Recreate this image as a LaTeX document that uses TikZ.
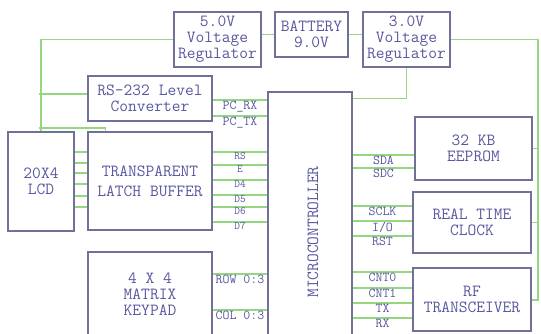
\documentclass[tikz,border=0pt]{standalone}
\usepackage{fontspec}
\usetikzlibrary{calc}
\definecolor{boxline}{RGB}{112,112,152}
\definecolor{wiregreen}{RGB}{150,214,128}
\definecolor{textblue}{RGB}{88,88,160}
\tikzset{
  % Functional block of the board
  block/.style={
    rectangle, draw=boxline, line width=1.2pt, fill=white, text=textblue,
    font=\ttfamily\fontsize{17}{16}\selectfont, align=center, inner sep=1pt
  },
  wire/.style={draw=wiregreen, line width=1.1pt},
  pinlabel/.style={font=\ttfamily\fontsize{13.5}{13}\selectfont, text=textblue, inner sep=0.5pt},
  latchpin/.style={font=\ttfamily\fontsize{11}{11}\selectfont, text=textblue, inner sep=0.5pt}
}
\begin{document}
\begin{tikzpicture}[x=1pt, y=-1pt]
  \useasboundingbox (0,0) rectangle (541,334);

  % Top row: power supply
  \node[block, minimum width=87pt, minimum height=55pt] (reg5) at (217.5,39.5) {5.0V\\Voltage\\Regulator};
  \node[block, minimum width=73pt, minimum height=45pt] (batt) at (311.5,34.5) {BATTERY\\9.0V};
  \node[block, minimum width=87pt, minimum height=55pt] (reg3) at (406.5,39.5) {3.0V\\Voltage\\Regulator};

  % Left column: serial, display, input
  \node[block, minimum width=124pt, minimum height=45pt] (rs232) at (150,98.5) {RS-232 Level\\Converter};
  \node[block, minimum width=66pt, minimum height=99pt] (lcd) at (41,181.5) {20X4\\LCD};
  \node[block, minimum width=124pt, minimum height=98pt] (latch) at (150,181) {TRANSPARENT\\[4pt]LATCH BUFFER};
  \node[block, minimum width=124pt, minimum height=84pt] (keypad) at (150,294) {4 X 4\\MATRIX\\KEYPAD};

  % Centre: microcontroller
  \node[block, minimum width=84pt, minimum height=248pt] (mcu) at (310,216) {};
  \node[block, draw=none, fill=none, rotate=90] (mcutext) at (313,232) {MICROCONTROLLER};

  % Right column: peripherals
  \node[block, minimum width=117pt, minimum height=63pt] (eeprom) at (473.5,148.5) {32 KB\\EEPROM};
  \node[block, minimum width=118pt, minimum height=61pt] (rtc) at (472,222.5) {REAL TIME\\CLOCK};
  \node[block, minimum width=118pt, minimum height=63pt] (rf) at (472,299.5) {RF\\TRANSCEIVER};

  % --- 5.0V rail on the left ---
  \coordinate (tap232) at (39,94);
  \coordinate (taplatch) at (39,128);
  \draw[wire] (reg5.west) -| (lcd.north);
  \draw[wire] (tap232) -- (tap232 -| rs232.west);
  \draw[wire] (taplatch) -| ($(latch.north west)+(18,0)$);

  % --- battery feeds both regulators ---
  \draw[wire] (batt.west -| reg5.east) -- (batt.west);
  \draw[wire] (batt.east) -- (batt.east -| reg3.west);

  % --- 3.0V rail on the right and to the microcontroller ---
  \coordinate (railend) at (538,300);
  \draw[wire] (reg3.east) -| (railend) -- (railend -| rf.east);
  \draw[wire] (eeprom.east) -- (eeprom.east -| railend);
  \draw[wire] (rtc.east) -- (rtc.east -| railend);
  \draw[wire] (reg3.south) |- ($(mcu.north east)+(0,7)$);

  % --- LCD data bus ---
  \foreach \y in {152,163,173,184,196,207}
    \draw[wire] (lcd.east |- 0,\y) -- (latch.west |- 0,\y);

  % --- pins on the microcontroller, left side ---
  \foreach \y/\txt in {100/PC\_RX,116/PC\_TX}
    \draw[wire] (rs232.east |- 0,\y) -- (mcu.west |- 0,\y) node[pinlabel, midway, below] {\txt};
  \foreach \y/\txt in {152/RS,165/E,180/D4,195/D5,207/D6,222/D7}
    \draw[wire] (latch.east |- 0,\y) -- (mcu.west |- 0,\y) node[latchpin, midway, below] {\txt};
  \foreach \y/\txt in {274/ROW 0:3,310/COL 0:3}
    \draw[wire] (keypad.east |- 0,\y) -- (mcu.west |- 0,\y) node[pinlabel, midway, below] {\txt};

  % --- pins on the microcontroller, right side ---
  \foreach \y/\txt in {155/SDA,168/SDC}
    \draw[wire] (mcu.east |- 0,\y) -- (eeprom.west |- 0,\y) node[pinlabel, midway, below] {\txt};
  \foreach \y/\txt in {206/SCLK,221/{I/O},236/RST}
    \draw[wire] (mcu.east |- 0,\y) -- (rtc.west |- 0,\y) node[pinlabel, midway, below] {\txt};
  \foreach \y/\txt in {272/CNT0,288/CNT1,303/TX,318/RX}
    \draw[wire] (mcu.east |- 0,\y) -- (rf.west |- 0,\y) node[pinlabel, midway, below] {\txt};
\end{tikzpicture}
\end{document}
